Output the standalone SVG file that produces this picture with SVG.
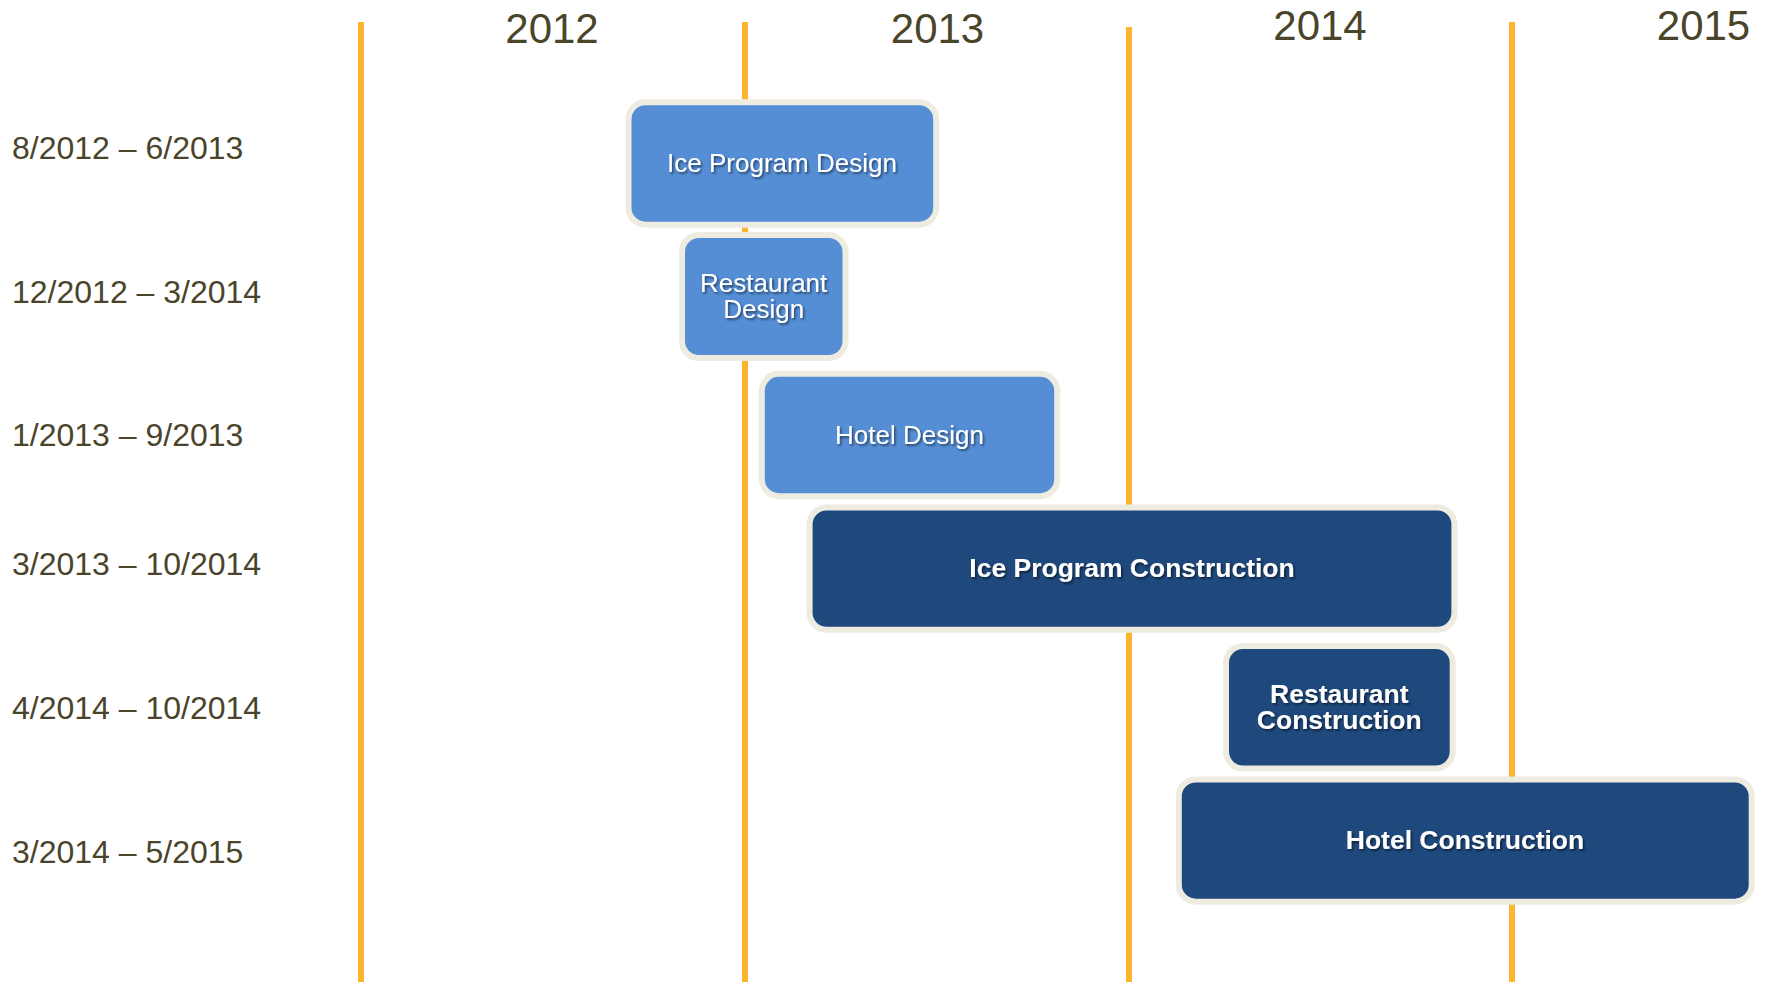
<svg xmlns="http://www.w3.org/2000/svg" width="1766" height="982" viewBox="0 0 1766 982">
  <defs>
    <filter id="ts" x="-10%" y="-30%" width="120%" height="160%">
      <feDropShadow dx="1.5" dy="1.8" stdDeviation="1" flood-color="#000" flood-opacity="0.55"/>
    </filter>
    <style>
      .grid { stroke: #FBB52D; stroke-width: 6; }
      .year { font-family: "Liberation Sans", Arial, sans-serif; font-size: 42px; fill: #4A452A; text-anchor: middle; }
      .lbl { font-family: "Liberation Sans", Arial, sans-serif; font-size: 32px; fill: #4A452A; }
      .bar { stroke: #EEECE1; stroke-width: 6; }
      .light { fill: #558ED5; }
      .dark { fill: #1F497D; }
      .t { font-family: "Liberation Sans", Arial, sans-serif; font-size: 26px; fill: #FFFFFF; text-anchor: middle; filter: url(#ts); }
      .tb { font-family: "Liberation Sans", Arial, sans-serif; font-size: 26.5px; font-weight: bold; fill: #FFFFFF; text-anchor: middle; filter: url(#ts); }
    </style>
  </defs>
  <rect width="1766" height="982" fill="#FFFFFF"/>

  <g id="connectors">
    <line class="grid" x1="361" y1="22" x2="361" y2="982"/>
    <line class="grid" x1="745" y1="22" x2="745" y2="982"/>
    <line class="grid" x1="1129" y1="27" x2="1129" y2="982"/>
    <line class="grid" x1="1512" y1="22" x2="1512" y2="982"/>
  </g>

  <g id="years">
    <text class="year" x="552" y="43">2012</text>
    <text class="year" x="937.5" y="43">2013</text>
    <text class="year" x="1320" y="39.5">2014</text>
    <text class="year" x="1703.5" y="39.5">2015</text>
  </g>

  <g id="labels">
    <text class="lbl" x="12" y="159">8/2012 – 6/2013</text>
    <text class="lbl" x="12" y="302.7">12/2012 – 3/2014</text>
    <text class="lbl" x="12" y="446">1/2013 – 9/2013</text>
    <text class="lbl" x="12" y="575">3/2013 – 10/2014</text>
    <text class="lbl" x="12" y="719">4/2014 – 10/2014</text>
    <text class="lbl" x="12" y="863">3/2014 – 5/2015</text>
  </g>

  <g id="ice-program-design">
    <rect class="bar light" x="628.5" y="102.2" width="307.7" height="122.5" rx="17"/>
    <text class="t" x="782" y="171.7">Ice Program Design</text>
  </g>

  <g id="restaurant-design">
    <rect class="bar light" x="682" y="235" width="163.5" height="123" rx="17"/>
    <text class="t" x="763.7" y="291.7">Restaurant</text>
    <text class="t" x="763.7" y="318.3">Design</text>
  </g>

  <g id="hotel-design">
    <rect class="bar light" x="761.8" y="373.8" width="295.4" height="122.4" rx="17"/>
    <text class="t" x="909.5" y="444.3">Hotel Design</text>
  </g>

  <g id="ice-program-construction">
    <rect class="bar dark" x="809.6" y="507.4" width="644.8" height="122.4" rx="17"/>
    <text class="tb" x="1132" y="577.2">Ice Program Construction</text>
  </g>

  <g id="restaurant-construction">
    <rect class="bar dark" x="1226" y="645.9" width="226.7" height="122.6" rx="17"/>
    <text class="tb" x="1339.3" y="702.8">Restaurant</text>
    <text class="tb" x="1339.3" y="729.3">Construction</text>
  </g>

  <g id="hotel-construction">
    <rect class="bar dark" x="1178.8" y="779.5" width="572.9" height="122.2" rx="17"/>
    <text class="tb" x="1465" y="849.4">Hotel Construction</text>
  </g>
</svg>
